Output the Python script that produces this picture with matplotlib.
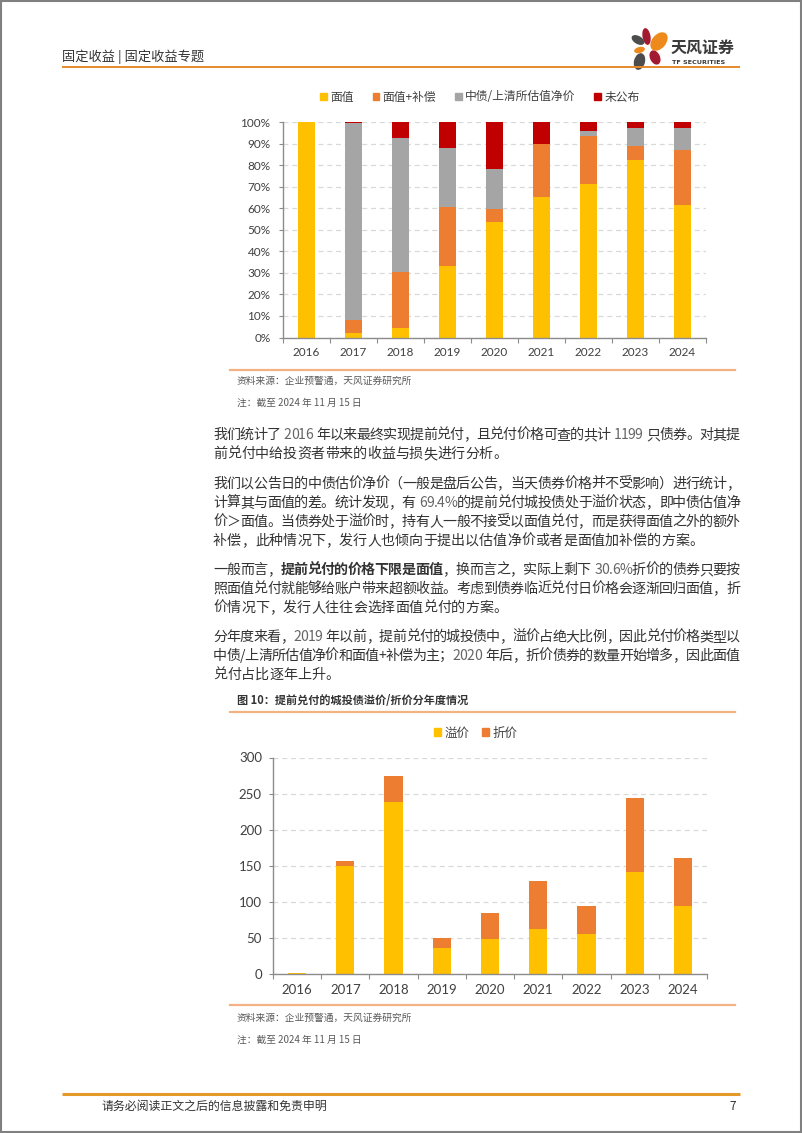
import numpy as np
import matplotlib
matplotlib.use("Agg")
import matplotlib.pyplot as plt
from matplotlib.patches import Patch, Ellipse, Rectangle
from matplotlib.font_manager import FontProperties

plt.rcParams['font.family'] = ['Noto Sans CJK SC', 'DejaVu Sans']

# ---- data ----
years = ['2016', '2017', '2018', '2019', '2020', '2021', '2022', '2023', '2024']

# chart 1: share of redemption price type (%)
face_pct = [100, 2.0, 4.5, 33.4, 53.6, 65.2, 71.4, 82.5, 61.5]
face_comp_pct = [0, 6.2, 26.0, 27.0, 5.8, 24.7, 22.3, 6.5, 25.7]
valuation_pct = [0, 91.2, 62.2, 27.5, 18.8, 0, 2.3, 8.4, 10.2]
unpublished_pct = [0, 0.6, 7.3, 12.1, 21.8, 10.1, 4.0, 2.6, 2.6]
labels_1 = ['面值', '面值+补偿', '中债/上清所估值净价', '未公布']

# chart 2: number of bonds at premium / discount
premium_cnt = [2, 149, 239, 36, 49, 62, 55, 141, 94]
discount_cnt = [0, 8, 35, 14, 36, 67, 39, 103, 67]
labels_2 = ['溢价', '折价']

YELLOW, ORANGE, GREY, RED = '#FFC000', '#ED7D31', '#A5A5A5', '#C00000'
TXT = '#333333'
NUM_FONT = ['Lato', 'DejaVu Sans']

W, H = 802, 1133
fig = plt.figure(figsize=(W / 100, H / 100), dpi=100)

# background axes in pixel coordinates (y down)
bg = fig.add_axes([0, 0, 1, 1], zorder=0)
bg.set_xlim(0, W)
bg.set_ylim(H, 0)
bg.axis('off')


def frac(x0, y0, x1, y1):
    return [x0 / W, 1 - y1 / H, (x1 - x0) / W, (y1 - y0) / H]


# page border
bg.add_patch(Rectangle((0.8, 0.8), W - 1.6, H - 1.6, fill=False, ec='#808080', lw=1.5))

# header
bg.text(62, 57, '固定收益 | 固定收益专题', fontsize=9.5, color='#333333', va='center')
bg.plot([62, 740], [67, 67], color='#E8892B', lw=1.4, solid_capstyle='butt')

# logo petals
petals = [
    (646.5, 36.5, 8, 17, -10, '#A3192F'),
    (638, 40, 14, 8, 30, '#4D4D4D'),
    (659, 41.5, 14, 21, 40, '#EE8A1C'),
    (639.5, 50, 11, 6, -15, '#EE8A1C'),
    (639.5, 61.5, 11, 17, 15, '#4D4D4D'),
    (655, 57.5, 10, 15, -25, '#A3192F'),
]
for cx, cy, w, h, ang, col in petals:
    bg.add_patch(Ellipse((cx, cy), w, h, angle=ang, color=col, lw=0))
bg.text(671, 48, '天风证券', fontsize=11.5, color='#3A3A3A', va='center', weight='bold')
bg.text(672, 63, 'TF SECURITIES', fontsize=4.6, color='#3A3A3A', va='center',
        weight='bold', family=['DejaVu Sans'])


def style_axes(ax, ymax, yticks, ylabels, fs, ypad, xpad):
    n = len(years)
    ax.set_xlim(-0.5, n - 0.5)
    ax.set_ylim(0, ymax)
    for s in ['top', 'right']:
        ax.spines[s].set_visible(False)
    for s in ['left', 'bottom']:
        ax.spines[s].set_color('#8C8C8C')
        ax.spines[s].set_linewidth(1.0)
    ax.set_xticks(np.arange(n + 1) - 0.5)
    ax.set_xticklabels([])
    ax.set_xticks(np.arange(n), minor=True)
    ax.set_xticklabels(years, minor=True, fontsize=fs, family=NUM_FONT, color='#404040')
    ax.tick_params(axis='x', which='major', length=3.5, direction='out', color='#8C8C8C')
    ax.tick_params(axis='x', which='minor', length=0, pad=xpad)
    ax.set_yticks(yticks)
    ax.set_yticklabels(ylabels, family=NUM_FONT)
    ax.tick_params(axis='y', length=3, color='#8C8C8C', labelsize=fs,
                   labelcolor='#404040', pad=ypad)
    ax.yaxis.grid(True, linestyle=(0, (4, 3)), color='#D9D9D9', lw=0.9)
    ax.set_axisbelow(True)


# ---- chart 1 ----
ax1 = fig.add_axes(frac(283, 122, 706, 337.5), zorder=2)
x = np.arange(len(years))
bottom = np.zeros(len(years))
series_1 = [face_pct, face_comp_pct, valuation_pct, unpublished_pct]
colors_1 = [YELLOW, ORANGE, GREY, RED]
for vals, col in zip(series_1, colors_1):
    ax1.bar(x, vals, width=0.38, bottom=bottom, color=col, lw=0)
    bottom += np.array(vals)
yt = list(range(0, 101, 10))
style_axes(ax1, 100, yt, [f'{v}%' for v in yt], 8.5, 6, 7)
fig.legend([Patch(color=c) for c in colors_1], labels_1, loc='center',
           bbox_to_anchor=(480 / W, 1 - 97 / H), ncol=4, frameon=False,
           fontsize=8.5, handlelength=0.55, handleheight=0.55, handletextpad=0.3,
           columnspacing=1.6, labelcolor='#404040')

bg.plot([230, 735], [370, 370], color='#F4B183', lw=1.6)
bg.text(237, 381, '资料来源：企业预警通，天风证券研究所', fontsize=7, color='#595959', va='center')
bg.text(237, 403, '注：截至 2024 年 11 月 15 日', fontsize=7, color='#595959', va='center')

# ---- body text (justified) ----
renderer = fig.canvas.get_renderer()
fp_reg = FontProperties(family=['Noto Sans CJK SC', 'DejaVu Sans'], size=10.1)
fp_bold = FontProperties(family=['Noto Sans CJK SC', 'DejaVu Sans'], size=10.1, weight='bold')
_cache = {}


def tw(s, fp):
    return renderer.get_text_width_height_descent(s, fp, ismath=False)[0]


def metrics(ch, bold):
    key = (ch, bold)
    if key not in _cache:
        fp = fp_bold if bold else fp_reg
        if ch == ' ':
            _cache[key] = (4.5, 0)
        else:
            adv = tw('|' + ch + '|', fp) - tw('||', fp)
            lb = adv + tw('|', fp) - tw(ch + '|', fp)
            _cache[key] = (adv, lb)
    return _cache[key]


X0, X1 = 213, 740


def body_line(segs, y, justify=True):
    chars = [(ch, b) for text, b in segs for ch in text]
    mets = [metrics(ch, b) for ch, b in chars]
    total = sum(m[0] for m in mets)
    gap = (X1 - X0 - total) / (len(chars) - 1) if justify else 0
    xp = X0
    for (ch, b), (adv, lb) in zip(chars, mets):
        if ch != ' ':
            col = '#666666' if ch in '0123456789.%' else TXT
            bg.text(xp + lb, y + 5, ch, fontproperties=fp_bold if b else fp_reg,
                    color=col, va='baseline', ha='left')
        xp += adv + gap


lines = [
    ([('我们统计了 2016 年以来最终实现提前兑付，且兑付价格可查的共计 1199 只债券。对其提', False)], 434, True),
    ([('前兑付中给投资者带来的收益与损失进行分析。', False)], 453, False),
    ([('我们以公告日的中债估价净价（一般是盘后公告，当天债券价格并不受影响）进行统计，', False)], 483, True),
    ([('计算其与面值的差。统计发现，有 69.4%的提前兑付城投债处于溢价状态，即中债估值净', False)], 502, True),
    ([('价＞面值。当债券处于溢价时，持有人一般不接受以面值兑付，而是获得面值之外的额外', False)], 521, True),
    ([('补偿，此种情况下，发行人也倾向于提出以估值净价或者是面值加补偿的方案。', False)], 540, False),
    ([('一般而言，', False), ('提前兑付的价格下限是面值', True),
      ('，换而言之，实际上剩下 30.6%折价的债券只要按', False)], 569, True),
    ([('照面值兑付就能够给账户带来超额收益。考虑到债券临近兑付日价格会逐渐回归面值，折', False)], 588, True),
    ([('价情况下，发行人往往会选择面值兑付的方案。', False)], 607, False),
    ([('分年度来看，2019 年以前，提前兑付的城投债中，溢价占绝大比例，因此兑付价格类型以', False)], 636, True),
    ([('中债/上清所估值净价和面值+补偿为主；2020 年后，折价债券的数量开始增多，因此面值', False)], 655, True),
    ([('兑付占比逐年上升。', False)], 674, False),
]
for segs, y, just in lines:
    body_line(segs, y, just)

# ---- chart 2 ----
bg.text(237, 700, '图 10：提前兑付的城投债溢价/折价分年度情况', fontsize=8, color='#333333',
        va='center', weight='bold')
bg.plot([230, 735], [712, 712], color='#F4B183', lw=1.6)

ax2 = fig.add_axes(frac(273, 757.5, 707, 974), zorder=2)
ax2.bar(x, premium_cnt, width=0.38, color=YELLOW, lw=0)
ax2.bar(x, discount_cnt, width=0.38, bottom=premium_cnt, color=ORANGE, lw=0)
yt2 = list(range(0, 301, 50))
style_axes(ax2, 300, yt2, [str(v) for v in yt2], 9.5, 5, 7)
fig.legend([Patch(color=YELLOW), Patch(color=ORANGE)], labels_2, loc='center',
           bbox_to_anchor=(476 / W, 1 - 733 / H), ncol=2, frameon=False,
           fontsize=9, handlelength=0.55, handleheight=0.55, handletextpad=0.3,
           columnspacing=1.0, labelcolor='#404040')

bg.plot([230, 735], [1005, 1005], color='#F4B183', lw=1.6)
bg.text(237, 1018, '资料来源：企业预警通，天风证券研究所', fontsize=7, color='#595959', va='center')
bg.text(237, 1040, '注：截至 2024 年 11 月 15 日', fontsize=7, color='#595959', va='center')

# footer
bg.plot([62, 740], [1094, 1094], color='#E39A26', lw=2.2, solid_capstyle='butt')
bg.text(102, 1106, '请务必阅读正文之后的信息披露和免责申明', fontsize=8.6, color='#333333', va='center')
bg.text(736, 1106, '7', fontsize=8.6, color='#333333', va='center', ha='right')

fig.savefig('out.png', dpi=100)
